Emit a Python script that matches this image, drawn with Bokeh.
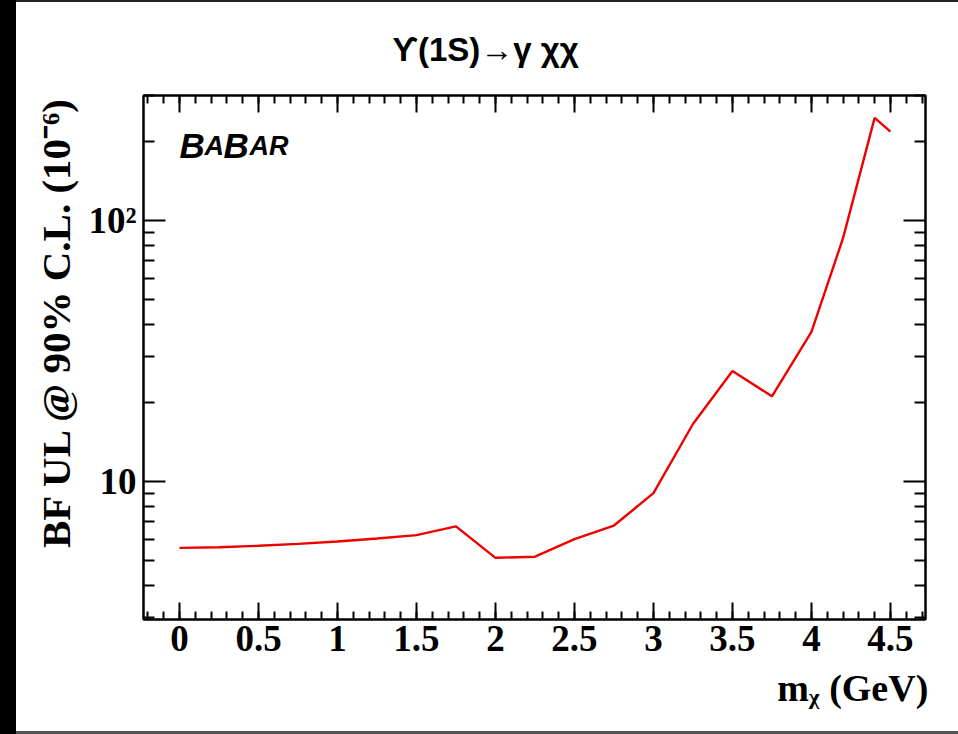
import math
from bokeh.plotting import figure
from bokeh.models import FixedTicker, LinearAxis, LogAxis, Label, Range1d
from bokeh.embed import file_html
from bokeh.resources import INLINE

# ---- data ----
mass = [0.0, 0.25, 0.5, 0.75, 1.0, 1.25, 1.5, 1.75, 2.0, 2.25, 2.5, 2.75,
        3.0, 3.25, 3.5, 3.75, 4.0, 4.2, 4.4, 4.5]
bf_ul = [5.57, 5.60, 5.67, 5.77, 5.89, 6.05, 6.23, 6.73, 5.10, 5.15, 6.01, 6.78,
         9.02, 16.6, 26.5, 21.2, 37.4, 85.5, 247.0, 219.0]

x_major = [0.0, 0.5, 1.0, 1.5, 2.0, 2.5, 3.0, 3.5, 4.0, 4.5]
x_labels = ["0", "0.5", "1", "1.5", "2", "2.5", "3", "3.5", "4", "4.5"]
x_minor = [round(-0.2 + 0.1 * i, 1) for i in range(50)]
y_major = [10, 100]
y_labels = ["10", "10\u00b2"]
y_minor = [3, 4, 5, 6, 7, 8, 9, 20, 30, 40, 50, 60, 70, 80, 90, 200, 300]

title_text = "\u03d2(1S)\u2192\u03b3 \u03c7\u03c7"
ylabel_text = "BF UL @ 90% C.L. (10\u207b\u2076)"
xlabel_text = "m\u1d6a (GeV)"

# ---- layout ----
W, H = 958, 734
FL, FR, FT, FB = 143, 925, 94, 619

p = figure(width=W, height=H,
           x_range=Range1d(-0.228, 4.722), y_range=Range1d(2.96, 301),
           y_axis_type="log", output_backend="svg", toolbar_location=None,
           min_border_left=FL, min_border_right=W - FR,
           min_border_top=FT, min_border_bottom=H - FB)
p.xgrid.visible = False
p.ygrid.visible = False
p.background_fill_color = "white"
p.border_fill_alpha = 0.0
p.outline_line_color = "black"
p.outline_line_width = 2
p.styles = {"box-shadow": "inset 16px 0 0 0 #000, "
                          "inset 0 2px 0 0 #222, inset 0 -3px 0 0 #555",
            "background-color": "white"}

SERIF = "Liberation Serif"
SANS = "Liberation Sans"

def style_x(ax, labels=True):
    ax.ticker = FixedTicker(ticks=x_major, minor_ticks=x_minor)
    ax.major_tick_in = 17
    ax.major_tick_out = 0
    ax.minor_tick_in = 8
    ax.minor_tick_out = 0
    ax.major_tick_line_width = 2
    ax.minor_tick_line_width = 2
    ax.axis_line_width = 2
    ax.major_label_text_font = SERIF
    ax.major_label_text_font_style = "bold"
    ax.major_label_text_color = "black"
    if labels:
        ax.major_label_text_font_size = "37px"
        ax.major_label_standoff = 6
        ax.major_label_overrides = {v: s for v, s in zip(x_major, x_labels)}
    else:
        ax.major_label_text_font_size = "1px"
        ax.major_label_standoff = 0
        ax.major_label_overrides = {v: "" for v in x_major}

def style_y(ax, labels=True):
    ax.ticker = FixedTicker(ticks=y_major, minor_ticks=y_minor)
    ax.major_tick_in = 22
    ax.major_tick_out = 0
    ax.minor_tick_in = 11
    ax.minor_tick_out = 0
    ax.major_tick_line_width = 2
    ax.minor_tick_line_width = 2
    ax.axis_line_width = 2
    ax.major_label_text_font = SERIF
    ax.major_label_text_font_style = "bold"
    ax.major_label_text_color = "black"
    ax.major_label_text_font_size = "37px"
    ax.major_label_standoff = 7
    if labels:
        ax.major_label_overrides = {v: s for v, s in zip(y_major, y_labels)}
    else:
        ax.major_label_overrides = {v: "" for v in y_major}

xa = p.xaxis[0]
ya = p.yaxis[0]
style_x(xa)
style_y(ya)
top_ax = LinearAxis()
style_x(top_ax, labels=False)
p.add_layout(top_ax, "above")
right_ax = LogAxis()
style_y(right_ax, labels=False)
p.add_layout(right_ax, "right")

# axis titles: centred, shifted toward the far end with leading no-break spaces
NBSP = "\u00a0"
for ax, txt, size, pad in ((xa, xlabel_text, 38, 67), (ya, ylabel_text, 41, 7)):
    ax.axis_label = NBSP * pad + txt
    ax.axis_label_text_font = SERIF
    ax.axis_label_text_font_style = "bold"
    ax.axis_label_text_color = "black"
    ax.axis_label_text_font_size = f"{size}px"
xa.axis_label_standoff = 13
ya.axis_label_standoff = 6

# title
p.title.text = title_text
p.title.text_font = SANS
p.title.text_font_style = "bold"
p.title.text_font_size = "33px"
p.title.text_color = "black"
p.title.align = "left"
p.title.offset = 249
p.title.standoff = 56

p.line(mass, bf_ul, line_color="#ee0000", line_width=2.4)

def lab(text, cx, cy, size, style="bold italic"):
    p.add_layout(Label(x=cx - FL, y=FB - cy, x_units="screen", y_units="screen",
                       text=text, text_font=SANS, text_font_style=style,
                       text_font_size=f"{size}px", text_align="left",
                       text_baseline="alphabetic", text_color="black"))

# BABAR logo
lab("B", 179, 145, 35)
lab("A", 204, 145, 27)
lab("B", 223, 145, 35)
lab("AR", 249, 145, 27)

open("out.html", "w").write(file_html(p, INLINE))
